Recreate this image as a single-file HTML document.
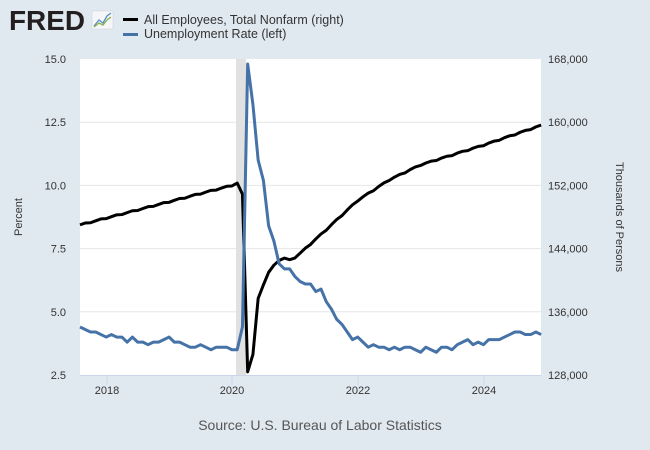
<!DOCTYPE html>
<html><head><meta charset="utf-8"><style>
body{margin:0;background:#e1e9f0;}
svg{display:block;font-family:"Liberation Sans",sans-serif;}
</style></head><body>
<svg id="s" width="650" height="450" xmlns="http://www.w3.org/2000/svg">
<rect width="650" height="450" fill="#e1e9f0"/>
<text x="9" y="30" font-size="28" font-weight="bold" fill="#231f20" textLength="76" lengthAdjust="spacingAndGlyphs">FRED</text>
<rect x="92" y="11" width="21" height="18" fill="#f4f6f8" stroke="#ccd" stroke-width="0.5"/>
<polyline points="94,26 99,20 103,23 107,16 111,13" fill="none" stroke="#5a8fc4" stroke-width="1.3"/>
<polyline points="94,27 99,23 103,25 107,20 111,17" fill="none" stroke="#8bb04a" stroke-width="1.3"/>
<rect x="123" y="18" width="15" height="3" fill="#000"/>
<text x="144" y="24" font-size="12.5" fill="#333">All Employees, Total Nonfarm (right)</text>
<rect x="123" y="33" width="15" height="3" fill="#4572a7"/>
<text x="144" y="38" font-size="12.5" fill="#333">Unemployment Rate (left)</text>
<rect x="80" y="59" width="461" height="316" fill="#fff"/>
<g id="grid" stroke="#e6e6e6" stroke-width="1"></g>
<rect x="236" y="59" width="10" height="316" fill="#e1e1e1"/>
<line x1="80" y1="375.5" x2="541" y2="375.5" stroke="#ccd6eb"/>
<g id="lbl" font-size="11" fill="#333"></g>
<text transform="translate(22,217) rotate(-90)" font-size="11" fill="#333" text-anchor="middle">Percent</text>
<text transform="translate(616,217) rotate(90)" font-size="11" fill="#333" text-anchor="middle">Thousands of Persons</text>
<text x="320" y="430" font-size="14" fill="#555" text-anchor="middle">Source: U.S. Bureau of Labor Statistics</text>
<polyline id="pay" fill="none" stroke="#000" stroke-width="3" stroke-linejoin="round"/>
<polyline id="ur" fill="none" stroke="#4572a7" stroke-width="3" stroke-linejoin="round"/>
</svg>
<script>
var NS="http://www.w3.org/2000/svg";
function el(t,a,p,txt){var e=document.createElementNS(NS,t);for(var k in a)e.setAttribute(k,a[k]);if(txt)e.textContent=txt;p.appendChild(e);}
var g=document.getElementById('grid'),l=document.getElementById('lbl');
var lv=["15.0","12.5","10.0","7.5","5.0","2.5"],rv=["168,000","160,000","152,000","144,000","136,000","128,000"];
for(var i=0;i<6;i++){var y=59+i*63.2;if(i>0&&i<5)el('line',{x1:80,x2:541,y1:y,y2:y},g);
el('text',{x:66,y:y+4,'text-anchor':'end'},l,lv[i]);el('text',{x:548,y:y+4},l,rv[i]);}
[[107,"2018"],[232,"2020"],[358,"2022"],[484,"2024"]].forEach(function(t){el('line',{x1:t[0],x2:t[0],y1:375,y2:385,stroke:'#ccd6eb'},g);el('text',{x:t[0],y:394,'text-anchor':'middle'},l,t[1]);});
var u=[4.4,4.3,4.2,4.2,4.1,4.0,4.1,4.0,4.0,3.8,4.0,3.8,3.8,3.7,3.8,3.8,3.9,4.0,3.8,3.8,3.7,3.6,3.6,3.7,3.6,3.5,3.6,3.6,3.6,3.5,3.5,4.4,14.8,13.2,11.0,10.2,8.4,7.8,6.9,6.7,6.7,6.4,6.2,6.1,6.1,5.8,5.9,5.4,5.1,4.7,4.5,4.2,3.9,4.0,3.8,3.6,3.7,3.6,3.6,3.5,3.6,3.5,3.6,3.6,3.5,3.4,3.6,3.5,3.4,3.6,3.6,3.5,3.7,3.8,3.9,3.7,3.8,3.7,3.9,3.9,3.9,4.0,4.1,4.2,4.2,4.1,4.1,4.2,4.1];
var anc=[[0,147000],[29,152000],[30,152300],[31,150900],[32,128400],[33,130600],[34,137700],[35,139400],[36,141000],[37,141900],[38,142500],[39,142800],[40,142600],[41,142800],[47,146400],[53,150100],[59,152700],[65,154600],[77,157100],[88,159600]];
var p=[];for(var j=0;j<89;j++){for(var k=0;k<anc.length-1;k++){if(j>=anc[k][0]&&j<=anc[k+1][0]){var f=(j-anc[k][0])/(anc[k+1][0]-anc[k][0]||1);p.push(anc[k][1]+f*(anc[k+1][1]-anc[k][1]));break;}}}
var s1="",s2="";
for(var j=0;j<89;j++){var x=80+j*5.24;var w=(j<30||j>41)?Math.sin(j*2.1)*80:0;s1+=x+","+(375-(u[j]-2.5)*316/12.5)+" ";s2+=x+","+(375-(p[j]+w-128000)*316/40000)+" ";}
document.getElementById('ur').setAttribute('points',s1);document.getElementById('pay').setAttribute('points',s2);
</script>
</body></html>
